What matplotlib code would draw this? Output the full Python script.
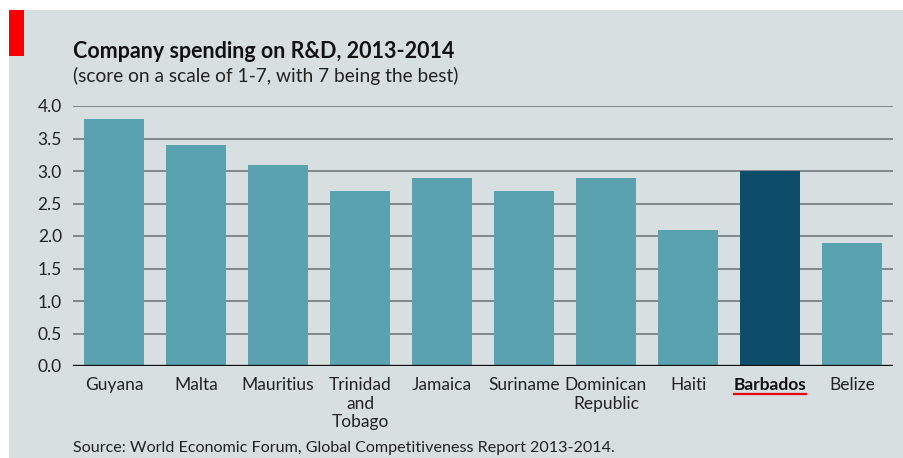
import matplotlib
matplotlib.use("Agg")
import matplotlib.pyplot as plt
from matplotlib.patches import Rectangle
from matplotlib.lines import Line2D

countries = ["Guyana", "Malta", "Mauritius", "Trinidad\nand\nTobago", "Jamaica",
             "Suriname", "Dominican\nRepublic", "Haiti", "Barbados", "Belize"]
scores = [3.8, 3.4, 3.1, 2.7, 2.9, 2.7, 2.9, 2.1, 3.0, 1.9]
highlight = "Barbados"
yticks = [0.0, 0.5, 1.0, 1.5, 2.0, 2.5, 3.0, 3.5, 4.0]

BG = "#d7dfe1"
BAR = "#5ba2b1"
BAR_HI = "#0c4e69"
FONT = "Lato"

W, H = 904, 458
fig = plt.figure(figsize=(W / 100, H / 100), dpi=100, facecolor="white")

# background panel and red tag
fig.patches.append(Rectangle((9 / W, 0), 1, 1 - 10 / H, transform=fig.transFigure,
                             facecolor=BG, edgecolor="none", zorder=-2))
fig.patches.append(Rectangle((9 / W, 1 - 56 / H), 15 / W, 46 / H, transform=fig.transFigure,
                             facecolor="#f80000", edgecolor="none", zorder=-1))

ax = fig.add_axes([73 / W, 1 - 366 / H, 820 / W, 260 / H])
ax.set_zorder(2)
ax.set_facecolor("none")
x = list(range(len(countries)))
colors = [BAR_HI if c == highlight else BAR for c in countries]
ax.bar(x, scores, width=0.72, color=colors, zorder=3)
ax.set_xlim(-0.5, len(countries) - 0.5)
ax.set_ylim(0, 4.0)

for v in yticks[1:]:
    ax.axhline(v, color="#6a6f72", lw=1.1, zorder=1)
ax.axhline(0, color="#111111", lw=2.4, zorder=4)

for s in ax.spines.values():
    s.set_visible(False)
ax.set_yticks(yticks)
ax.set_yticklabels([f"{v:.1f}" for v in yticks], fontsize=12.5, family=FONT, color="#222222")
ax.tick_params(axis="y", length=0, pad=8)
ax.set_xticks(x)
ax.set_xticklabels(countries, fontsize=12.5, family=FONT, color="#222222", linespacing=1.2)
ax.tick_params(axis="x", length=0, pad=8)
for lbl, c in zip(ax.get_xticklabels(), countries):
    lbl.set_verticalalignment("top")
    if c == highlight:
        lbl.set_fontweight("bold")
        lbl.set_color("#111111")

# red underline below the highlighted label
hi = countries.index(highlight)
fig.canvas.draw()
bb = ax.get_xticklabels()[hi].get_window_extent()
fig.add_artist(Line2D([bb.x0 / W, bb.x1 / W], [(bb.y0 - 1) / H] * 2, transform=fig.transFigure,
                      color="#e8000b", lw=1.6, zorder=5))

fig.text(73 / W, 1 - 58 / H, "Company spending on R&D, 2013-2014", fontsize=15.5,
         fontweight="bold", family=FONT, color="#111111", va="baseline")
fig.text(73 / W, 1 - 82 / H, "(score on a scale of 1-7, with 7 being the best)", fontsize=13.8,
         family=FONT, color="#222222", va="baseline")
fig.text(73 / W, 1 - 452 / H, "Source: World Economic Forum, Global Competitiveness Report 2013-2014.",
         fontsize=11.6, family=FONT, color="#222222", va="baseline")

fig.savefig("out.png", dpi=100, facecolor="white")
